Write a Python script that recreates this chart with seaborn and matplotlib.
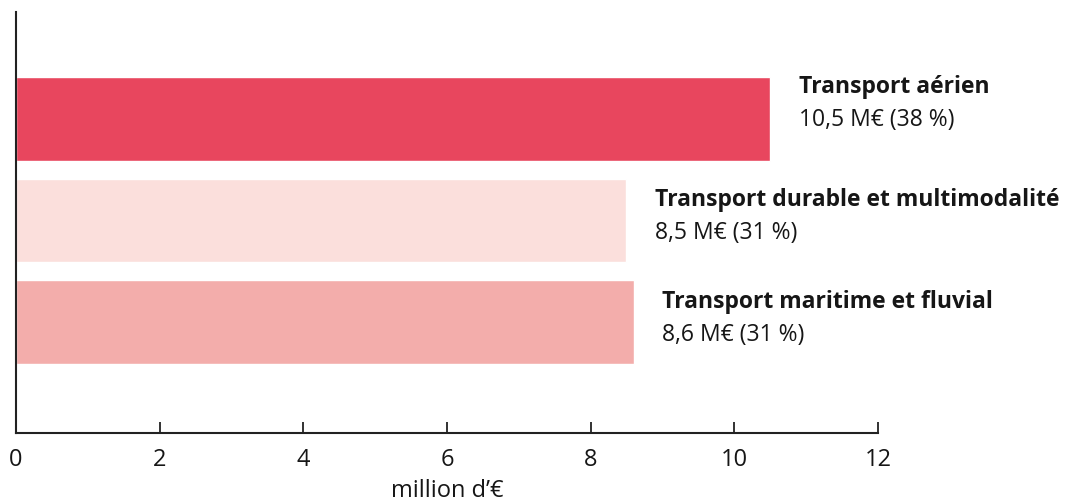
import matplotlib
matplotlib.use("Agg")
import matplotlib.pyplot as plt
import seaborn as sns

# données
categories = ["Transport aérien", "Transport durable et multimodalité", "Transport maritime et fluvial"]
values     = [10.5, 8.5, 8.6]
value_text = ["10,5 M€ (38 %)", "8,5 M€ (31 %)", "8,6 M€ (31 %)"]
colors     = ["#E8465E", "#FBDFDC", "#F3ADAB"]
xticks     = [0, 2, 4, 6, 8, 10, 12]

sns.set_theme(style="white")
plt.rcParams["font.family"] = ["Open Sans", "DejaVu Sans"]

fig = plt.figure(figsize=(10.66, 5.04), dpi=100)
ax = fig.add_axes([0.015, 0.141, 0.8085, 0.835])

sns.barplot(x=values, y=categories, hue=categories, palette=colors,
            orient="h", width=0.83, saturation=1, legend=False, ax=ax)

ax.set_xlim(0, 12)
ax.set_ylim(3.1, -1.06)
ax.set_xticks(xticks)
ax.set_xticklabels([str(t) for t in xticks], fontsize=17, color="#161616")
ax.set_yticks([])
ax.set_ylabel("")
ax.set_xlabel("million d’€", fontsize=17, color="#161616", labelpad=5)
ax.tick_params(axis="x", bottom=True, direction="in", length=8, width=1.3,
               color="#222222", pad=11)

for s in ["top", "right"]:
    ax.spines[s].set_visible(False)
for s in ["left", "bottom"]:
    ax.spines[s].set_color("#222222")
    ax.spines[s].set_linewidth(1.5)

# étiquettes à droite des barres
nudge = [12, 0, 0]
for i, (cat, v, txt) in enumerate(zip(categories, values, value_text)):
    ax.annotate(cat, xy=(v + 0.4, i), xytext=(0, 14 + nudge[i]), textcoords="offset pixels",
                ha="left", va="baseline", fontsize=16.5, fontweight="bold", color="#161616",
                annotation_clip=False)
    ax.annotate(txt, xy=(v + 0.4, i), xytext=(0, -19 + nudge[i]), textcoords="offset pixels",
                ha="left", va="baseline", fontsize=16.5, color="#161616",
                annotation_clip=False)

fig.savefig("out.png", dpi=100)
